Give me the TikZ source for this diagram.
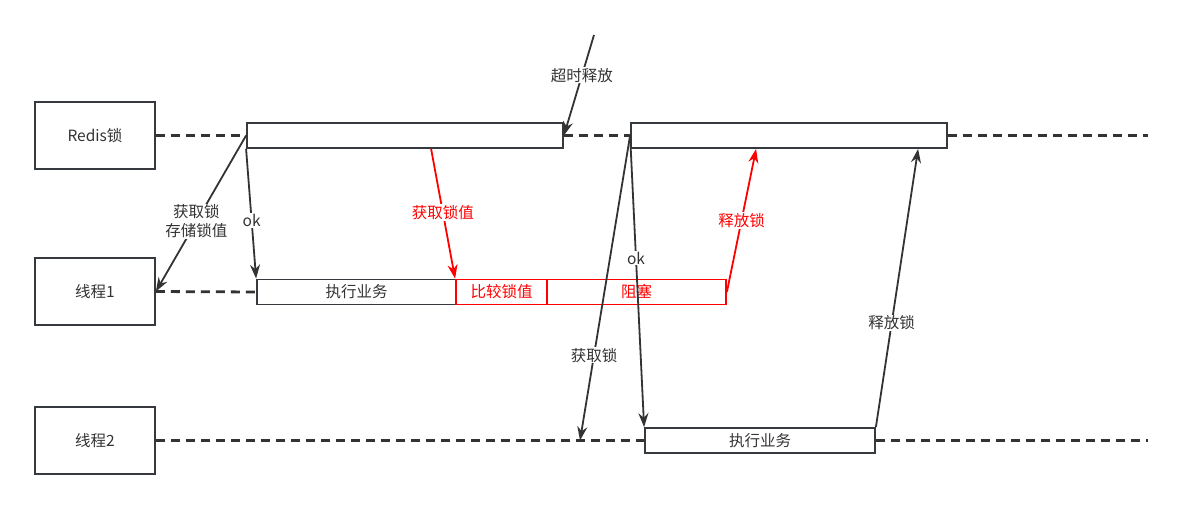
\documentclass[tikz,border=0pt]{standalone}
\usepackage{fontspec}
\setmainfont{Noto Sans CJK SC}
\usetikzlibrary{arrows.meta,calc}
\definecolor{ln}{HTML}{333333}
\definecolor{bd}{HTML}{36393D}
\definecolor{rd}{HTML}{FF0000}
\begin{document}
\begin{tikzpicture}[x=1pt,y=-1pt,
  font=\fontsize{15.5}{19}\selectfont,
  actor/.style={draw=bd,line width=1.8pt,minimum width=120pt,minimum height=67pt,inner sep=0pt,text=ln},
  bar/.style={draw=bd,line width=1.8pt,minimum height=25pt,inner sep=0pt,text=ln},
  rbar/.style={draw=rd,line width=1.8pt,minimum height=25pt,inner sep=0pt,text=rd},
  life/.style={draw=ln,line width=2.8pt,dash pattern=on 9pt off 6pt},
  arr/.style={draw=ln,line width=1.8pt,-{Stealth[length=14pt,width=10pt]}},
  rarr/.style={draw=rd,line width=1.8pt,-{Stealth[length=14pt,width=10pt]}},
  lbl/.style={fill=white,inner sep=1pt,text=ln,align=center},
  rlbl/.style={fill=white,inner sep=1pt,text=rd,align=center}]
\useasboundingbox (0,0) rectangle (1184,508);
% actors
\node[actor] (redis) at (95,135.5) {Redis锁};
\node[actor] (t1) at (95,291.5) {线程1};
\node[actor] (t2) at (95,440.5) {线程2};
% redis lifeline bars
\node[bar,minimum width=316pt] (r1) at (405,135.5) {};
\node[bar,minimum width=316pt] (r2) at (789,135.5) {};
\coordinate (rend) at (1148,135.5);
\draw[life] (redis.east) -- (r1.west);
\draw[life] (r1.east) -- (r2.west);
\draw[life] (r2.east) -- (rend);
% thread 1
\node[bar,minimum width=199pt] (e1) at (356.5,292) {执行业务};
\node[rbar,minimum width=91pt] (cmp) at (501.5,292) {比较锁值};
\node[rbar,minimum width=179pt] (blk) at (636.5,292) {阻塞};
\draw[life] (t1.east) -- (e1.west);
% thread 2
\node[bar,minimum width=230pt] (e2) at (760,440.5) {执行业务};
\coordinate (t2end) at (1148,440.5);
\coordinate (t2get) at (580,440.5);
\draw[life] (t2.east) -- (e2.west);
\draw[life] (e2.east) -- (t2end);
% arrows
\draw[arr] (r1.west) -- node[lbl,pos=0.55] {获取锁\\存储锁值} (t1.east);
\draw[arr] (r1.south west) -- node[lbl,pos=0.55] {ok} (e1.north west);
\draw[rarr] ($(r1.south west)+(185,0)$) -- node[rlbl,pos=0.49] {获取锁值} (cmp.north west);
\coordinate (timeout) at (594,35);
\draw[arr] (timeout) -- node[lbl,pos=0.4] {超时释放} (r1.east);
\draw[arr] (r2.west) -- node[lbl,pos=0.72] {获取锁} (t2get);
\draw[arr] (r2.west) -- node[lbl,pos=0.42] {ok} (e2.north west);
\draw[rarr] (blk.east) -- node[rlbl,pos=0.5] {释放锁} ($(r2.south west)+(126,0)$);
\draw[arr] (e2.north east) -- node[lbl,pos=0.375] {释放锁} ($(r2.south west)+(288,0)$);
\end{tikzpicture}
\end{document}
